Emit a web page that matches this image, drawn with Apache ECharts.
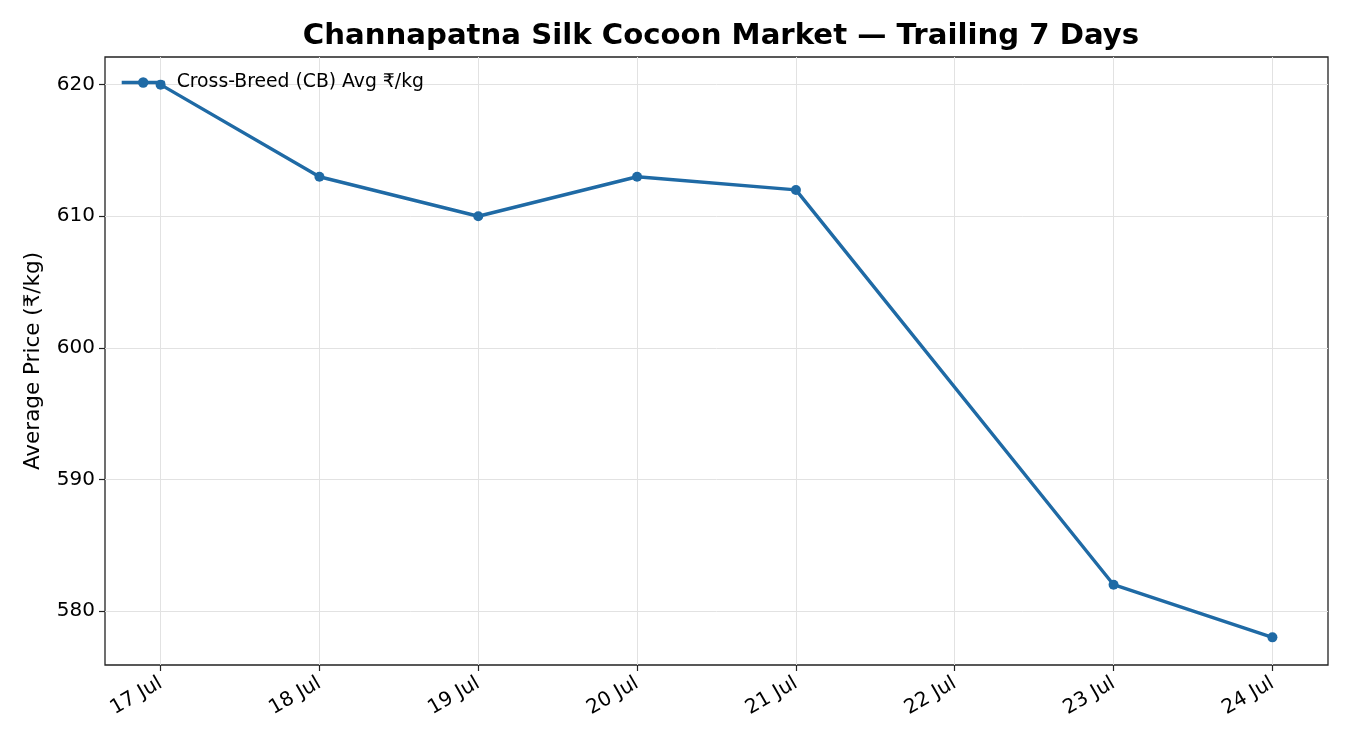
<!DOCTYPE html>
<html><head><meta charset="utf-8">
<script src="https://cdn.jsdelivr.net/npm/echarts@6/dist/echarts.min.js"></script>
<style>html,body{margin:0;padding:0;background:#fff}#c{width:1350px;height:750px}</style>
</head><body><div id="c"></div>
<script>
const dayNumbers = [17, 18, 19, 20, 21, 22, 23, 24];
const dayLabels = ['17 Jul','18 Jul','19 Jul','20 Jul','21 Jul','22 Jul','23 Jul','24 Jul'];
const cbPrices = [620, 613, 610, 613, 612, null, 582, 578];
const yTicks = [580, 590, 600, 610, 620];
const seriesName = 'Cross-Breed (CB) Avg ₹/kg';
const titleText = 'Channapatna Silk Cocoon Market — Trailing 7 Days';
const yName = 'Average Price (₹/kg)';

const font = '"DejaVu Sans"';
const color = '#1f6aa5';
const pts = dayNumbers.map((d,i)=>[d, cbPrices[i]]);
const labelMap = {}; dayNumbers.forEach((d,i)=>labelMap[d]=dayLabels[i]);

const chart = echarts.init(document.getElementById('c'), null, {renderer:'canvas'});
chart.setOption({
  animation:false,
  backgroundColor:'#fff',
  title:{text:titleText,left:716,textAlign:'center',top:17,
    textStyle:{fontFamily:font,fontSize:29.2,fontWeight:'bold',color:'#000'}},
  legend:{show:true,left:120,top:73,itemWidth:43,itemHeight:13,itemGap:10,
    data:[{name:seriesName}],
    lineStyle:{width:3.4},
    textStyle:{fontFamily:font,fontSize:18.8,color:'#000',padding:[0,0,0,7]},padding:0},
  grid:{left:105,right:22,top:57,bottom:85,show:true,borderColor:'#222',borderWidth:1.3,backgroundColor:'transparent'},
  xAxis:{type:'value',min:16.65,max:24.35,
    axisLine:{show:false},
    axisTick:{show:true,customValues:dayNumbers,length:6,lineStyle:{color:'#222',width:1.2}},
    axisLabel:{customValues:dayNumbers,formatter:v=>labelMap[Math.round(v)]||'',rotate:30,
      fontFamily:font,fontSize:20,color:'#000',margin:17},
    splitLine:{show:true,lineStyle:{color:'#e2e2e2',width:1}}},
  yAxis:{type:'value',min:575.9,max:622.1,name:yName,nameLocation:'middle',nameGap:61,
    nameTextStyle:{fontFamily:font,fontSize:21.5,color:'#000'},
    axisLine:{show:false},
    axisTick:{show:true,customValues:yTicks,length:6,lineStyle:{color:'#222',width:1.2}},
    axisLabel:{customValues:yTicks,fontFamily:font,fontSize:20,color:'#000',margin:10},
    splitLine:{show:true,lineStyle:{color:'#e2e2e2',width:1}}},
  series:[{name:seriesName,type:'line',data:pts,connectNulls:true,
    symbol:'circle',symbolSize:10,showAllSymbol:true,
    lineStyle:{color:color,width:3.4},itemStyle:{color:color}}]
});
</script></body></html>
